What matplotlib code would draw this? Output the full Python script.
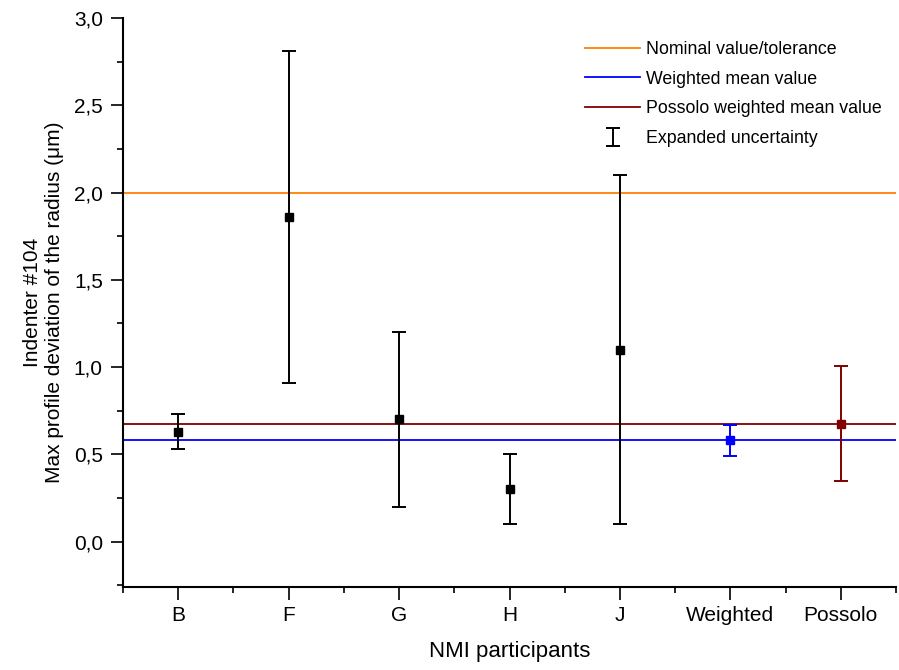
import numpy as np
import matplotlib
matplotlib.use("Agg")
from matplotlib import pyplot as plt
from matplotlib.ticker import MultipleLocator, FuncFormatter, FixedLocator

plt.rcParams['font.family'] = ['Liberation Sans', 'DejaVu Sans']

# datos
participantes = ['B', 'F', 'G', 'H', 'J', 'Weighted', 'Possolo']
valores = [0.63, 1.86, 0.70, 0.30, 1.10, 0.58, 0.675]
incertidumbres = [0.10, 0.95, 0.50, 0.20, 1.00, 0.088, 0.33]
colores = ['black', 'black', 'black', 'black', 'black', '#0000FF', '#800000']

nominal = 2.0
media_ponderada = 0.58
media_possolo = 0.675

fig = plt.figure(figsize=(8.99, 6.7), dpi=100)
ax = fig.add_axes([0.1368, 0.1239, 0.8599, 0.8492])

ax.axhline(nominal, color='#FF8000', lw=1.3, label='Nominal value/tolerance', zorder=1)
ax.axhline(media_ponderada, color='#0000FF', lw=1.3, label='Weighted mean value', zorder=1)
ax.axhline(media_possolo, color='#800000', lw=1.3, label='Possolo weighted mean value', zorder=1)

x = np.arange(len(participantes))
for xi, v, e, c in zip(x, valores, incertidumbres, colores):
    ax.errorbar(xi, v, yerr=e, fmt='s', color=c, ecolor=c, ms=5.5,
                elinewidth=1.4, capsize=5, capthick=1.4, zorder=3)

# muestra para la leyenda
ax.errorbar([np.nan], [np.nan], yerr=[1], fmt='none', ecolor='black',
            elinewidth=1.4, capsize=5, capthick=1.4, label='Expanded uncertainty')

ax.set_xlim(-0.5, 6.5)
ax.set_ylim(-0.26, 3.0)
ax.set_xticks(x)
ax.set_xticklabels(participantes)
ax.xaxis.set_minor_locator(FixedLocator(np.arange(-0.5, 7.0, 1.0)))
ax.yaxis.set_major_locator(MultipleLocator(0.5))
ax.yaxis.set_minor_locator(MultipleLocator(0.25))
ax.yaxis.set_major_formatter(FuncFormatter(lambda v, p: ('%.1f' % v).replace('.', ',')))

for s in ['top', 'right']:
    ax.spines[s].set_visible(False)
for s in ['left', 'bottom']:
    ax.spines[s].set_linewidth(1.5)
ax.tick_params(which='major', direction='out', length=9, width=1.2, labelsize=15, pad=5.5)
ax.tick_params(axis='x', which='major', pad=4.5)
ax.tick_params(which='minor', direction='out', length=4.5, width=1.2)

ax.set_xlabel('NMI participants', fontsize=16, labelpad=12)
ax.set_ylabel('Indenter #104\nMax profile deviation of the radius (\u03bcm)', fontsize=15, labelpad=7,
              linespacing=1.2)

handles, labels = ax.get_legend_handles_labels()
ax.legend(handles, labels, loc='upper left', bbox_to_anchor=(0.651, 0.939),
          bbox_transform=fig.transFigure, frameon=False, fontsize=12.8,
          handlelength=3.1, labelspacing=0.72, borderpad=0, borderaxespad=0,
          handletextpad=0.33)

fig.savefig('out.png', dpi=100)
